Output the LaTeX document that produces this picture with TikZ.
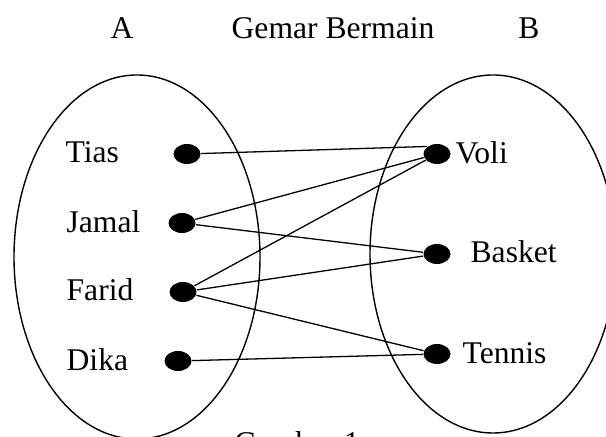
\documentclass[tikz,border=0pt]{standalone}
\usepackage{fontspec}
\setmainfont{Liberation Serif}
\usetikzlibrary{shapes.geometric}
\tikzset{
  label/.style = {inner sep=0pt, anchor=base west, font=\fontsize{15.8}{18}\selectfont},
  judul/.style = {inner sep=0pt, anchor=base, font=\fontsize{15.8}{18}\selectfont},
  titik/.style = {ellipse, fill=black, draw=none, inner sep=0pt,
    minimum width=13.5pt, minimum height=10pt},% titik anggota himpunan
  himpunan/.style = {draw=black, line width=0.7pt}
}
\begin{document}
\begin{tikzpicture}[x=0.5pt,y=-0.5pt,line width=0.65pt]
\useasboundingbox (0,0) rectangle (606,437);
\begin{scope}
\clip (0,0) rectangle (606,437);
% judul
\node [judul] (hA) at (122,39) {A};
\node [judul] (hjudul) at (333,39) {Gemar Bermain};
\node [judul] (hB) at (529,39) {B};
% himpunan A dan B
\draw [himpunan] (137,257) ellipse [x radius=61.5pt, y radius=91pt];
\draw [himpunan] (493,254) ellipse [x radius=61.5pt, y radius=89.5pt];
% anggota A
\node [label] (tias) at (65,163) {Tias};
\node [label] (jamal) at (66,233) {Jamal};
\node [label] (farid) at (66,301) {Farid};
\node [label] (dika) at (66,371) {Dika};
\node [titik] (a1) at (187,154) {};
\node [titik] (a2) at (182,223) {};
\node [titik] (a3) at (183,292) {};
\node [titik] (a4) at (178,361) {};
% anggota B
\node [titik] (b1) at (437,154) {};
\node [titik] (b2) at (437,254) {};
\node [titik] (b3) at (437,354) {};
\node [label] (voli) at (455,164) {Voli};
\node [label] (basket) at (470,263) {Basket};
\node [label] (tennis) at (462,364) {Tennis};
% relasi
\draw (a1) -- (b1.north west);
\draw (a2) -- (b1);
\draw (a2) -- (b2);
\draw (a3) -- (b1);
\draw (a3) -- (b2);
\draw (a3) -- (b3);
\draw (a4) -- (b3);
% keterangan
\node [judul] (gambar) at (297,454) {Gambar 1};
\end{scope}
\end{tikzpicture}
\end{document}
